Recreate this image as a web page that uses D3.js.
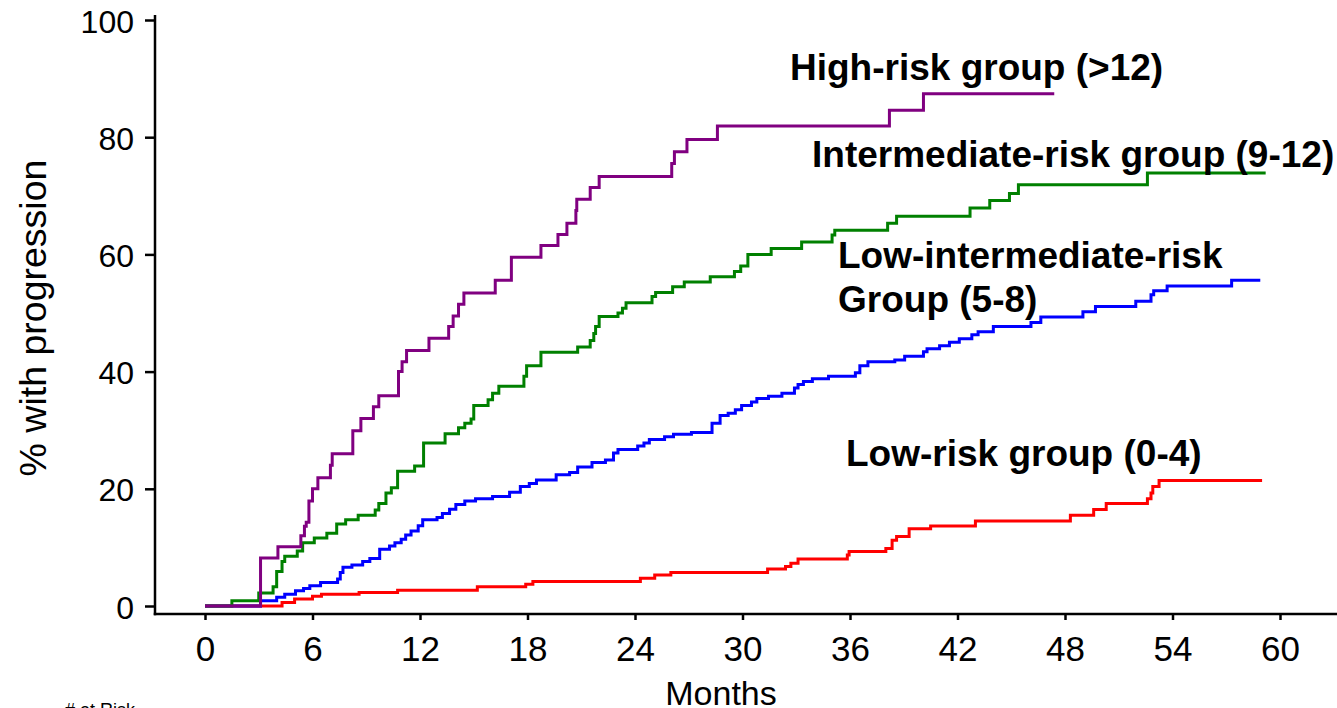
<!DOCTYPE html>
<html>
  <head>
    <meta charset="utf-8" />
    <style type="text/css">
      html, body { margin: 0; padding: 0; background: #fff; }
      svg { display: block; }
      .tx { font-family: "Liberation Sans", Arial, Helvetica, sans-serif; }
    </style>
    <script src="https://cdn.jsdelivr.net/npm/d3@7"></script>
  </head>
  <body>
    <div id="chart"></div>
    <script>
      // [month, % with progression]
      var lowRisk = [[0,0],[4.3,0.6],[5.0,1.2],[6.0,1.65],[6.5,2.0],[8.6,2.3],[10.75,2.7],[15.2,3.3],[17.9,3.7],[18.3,4.2],
        [24.3,4.75],[25.1,5.3],[26.0,5.7],[31.4,6.3],[32.4,6.75],[32.7,7.3],[33.1,8.0],[35.85,8.7],[35.95,9.3],[38.0,9.8],
        [38.35,11.2],[38.6,11.85],[39.3,13.2],[40.5,13.65],[43.0,14.5],[48.3,15.5],[49.6,16.45],[50.3,17.5],[52.6,18.3],
        [52.8,19.3],[52.9,20.4],[53.25,21.4],[59.0,21.4]];
      var lowIntRisk = [[0,0],[3.1,0.9],[4.0,1.5],[4.45,2.0],[5.05,2.6],[5.5,3.0],[5.85,3.45],[6.45,4.0],[7.4,4.6],[7.55,5.7],
        [7.7,6.6],[8.2,7.0],[8.8,7.6],[9.2,8.1],[9.75,9.7],[10.3,10.25],[10.6,10.8],[10.95,11.4],[11.2,12.1],[11.5,12.8],
        [11.9,13.7],[12.15,14.7],[12.95,15.1],[13.25,15.8],[13.65,16.5],[14.0,17.3],[14.5,17.9],[15.1,18.3],[16.05,18.7],
        [17.0,19.4],[17.6,20.4],[18.1,20.9],[18.5,21.5],[19.6,22.4],[20.35,22.8],[20.8,23.7],[21.6,24.5],[22.35,24.9],
        [22.8,26.1],[23.05,26.7],[24.15,27.3],[24.5,27.8],[24.8,28.4],[25.65,28.9],[26.15,29.3],[27.15,29.6],[28.3,31.2],
        [28.75,32.5],[29.2,32.9],[29.6,33.5],[29.95,34.2],[30.5,34.8],[30.8,35.4],[31.45,35.8],[32.2,36.3],[32.9,37.2],
        [33.1,37.8],[33.4,38.3],[33.9,38.8],[34.8,39.2],[36.3,39.8],[36.55,41.0],[37.0,41.7],[38.5,42.0],[39.05,42.6],
        [40.1,43.4],[40.3,43.9],[41.0,44.4],[41.55,45.0],[42.1,45.6],[42.8,46.3],[43.15,46.8],[44.0,47.7],[46.1,48.4],
        [46.65,49.3],[49.0,50.2],[49.7,51.1],[51.95,52.0],[52.8,53.1],[52.95,53.8],[53.7,54.6],[57.3,55.6],[58.9,55.6]];
      var intRisk = [[0,0],[1.5,0.9],[3.0,2.2],[3.8,3.3],[4.0,5.9],[4.3,7.6],[4.45,8.5],[5.15,9.4],[5.45,10.8],[6.1,11.6],
        [6.8,12.4],[7.35,14.0],[7.85,14.7],[8.55,15.5],[9.5,16.4],[9.7,17.5],[10.1,19.3],[10.4,20.2],[10.75,23.0],[11.7,23.9],
        [12.2,27.8],[13.4,29.4],[14.15,30.4],[14.5,31.2],[14.85,31.9],[15.0,34.2],[15.8,35.2],[16.05,36.3],[16.4,37.5],
        [17.8,39.2],[17.95,41.0],[18.75,43.3],[20.8,44.2],[21.5,45.3],[21.7,46.5],[21.8,47.7],[22.0,49.4],[23.05,50.0],
        [23.3,50.8],[23.5,51.75],[24.95,52.8],[25.15,53.5],[26.1,54.5],[26.75,55.3],[28.2,56.2],[29.55,57.1],[29.9,58.0],
        [30.3,60.0],[31.6,61.0],[33.3,62.1],[35.0,63.3],[35.15,64.1],[38.1,65.3],[38.6,66.5],[42.7,67.9],[43.8,69.2],
        [44.9,70.4],[45.4,71.9],[52.6,73.9],[59.2,73.9]];
      var highRisk = [[0,0],[3.1,8.2],[4.07,10.1],[5.35,12.0],[5.55,13.6],[5.65,14.3],[5.8,17.9],[6.0,20.0],[6.3,21.9],
        [7.0,24.0],[7.1,26.0],[8.25,29.9],[8.7,32.0],[9.4,34.0],[9.7,35.9],[10.8,40.0],[11.0,41.7],[11.25,43.6],[12.5,45.7],
        [13.6,47.7],[13.85,49.5],[14.15,51.5],[14.45,53.4],[16.2,55.6],[17.1,59.5],[18.75,61.5],[19.7,63.4],[20.2,65.3],
        [20.7,67.5],[20.75,69.4],[21.5,71.4],[22.0,73.3],[26.05,75.5],[26.2,77.5],[26.9,79.6],[28.6,81.9],[38.2,84.6],
        [40.1,87.4],[47.4,87.4]];

      var seriesColors = ["#ff0000", "#0000ff", "#008000", "#800080"];
      var seriesData = [lowRisk, lowIntRisk, intRisk, highRisk];

      var xTicks = [0, 6, 12, 18, 24, 30, 36, 42, 48, 54, 60];
      var yTicks = [0, 20, 40, 60, 80, 100];

      // group labels, one line each entry
      var labelLines = [
        {text: "High-risk group (>12)", x: 790, y: 80},
        {text: "Intermediate-risk group (9-12)", x: 812, y: 167},
        {text: "Low-intermediate-risk", x: 838, y: 268},
        {text: "Group (5-8)", x: 838, y: 312},
        {text: "Low-risk group (0-4)", x: 846, y: 466}
      ];

      var W = 1337, H = 708;
      var axX = 155, axY = 614;

      var svg = d3.select("#chart").append("svg")
        .attr("width", W).attr("height", H);

      var x = d3.scaleLinear().domain([0, 60]).range([205, 1280]);
      var y = d3.scaleLinear().domain([0, 100]).range([606, 20]);

      // axes
      var yAxis = svg.append("g")
        .attr("transform", "translate(" + axX + ",0)")
        .call(d3.axisLeft(y).tickValues(yTicks).tickSize(10).tickSizeOuter(0));
      yAxis.select(".domain").remove();
      yAxis.selectAll("line").attr("stroke", "#000").attr("stroke-width", 2.5);
      yAxis.selectAll("text")
        .attr("class", "tx")
        .attr("x", -21).attr("dy", null).attr("y", 12)
        .style("font-size", "32px").attr("fill", "#000");

      var xAxis = svg.append("g")
        .attr("transform", "translate(0," + axY + ")")
        .call(d3.axisBottom(x).tickValues(xTicks).tickSize(6).tickSizeOuter(0));
      xAxis.select(".domain").remove();
      xAxis.selectAll("line").attr("stroke", "#000").attr("stroke-width", 2.5);
      xAxis.selectAll("text")
        .attr("class", "tx")
        .attr("dy", null).attr("y", 47)
        .style("font-size", "35px").attr("fill", "#000");

      svg.append("line")
        .attr("x1", axX).attr("x2", axX).attr("y1", 15).attr("y2", axY + 1.25)
        .attr("stroke", "#000").attr("stroke-width", 2.5);
      svg.append("line")
        .attr("x1", axX - 1.25).attr("x2", W).attr("y1", axY).attr("y2", axY)
        .attr("stroke", "#000").attr("stroke-width", 2.5);

      // curves
      var line = d3.line()
        .x(function(d) { return x(d[0]); })
        .y(function(d) { return y(d[1]); })
        .curve(d3.curveStepAfter);

      svg.selectAll(".curve")
        .data(seriesData)
        .enter().append("path")
        .attr("class", "curve")
        .attr("d", line)
        .attr("fill", "none")
        .attr("stroke", function(d, i) { return seriesColors[i]; })
        .attr("stroke-width", 3);

      // labels
      svg.selectAll(".lbl")
        .data(labelLines)
        .enter().append("text")
        .attr("class", "tx lbl")
        .attr("x", function(d) { return d.x; })
        .attr("y", function(d) { return d.y; })
        .style("font-size", "37px").style("font-weight", "bold")
        .text(function(d) { return d.text; });

      svg.append("text")
        .attr("class", "tx")
        .attr("transform", "translate(46,318) rotate(-90)")
        .attr("text-anchor", "middle")
        .style("font-size", "37.5px")
        .text("% with progression");

      svg.append("text")
        .attr("class", "tx")
        .attr("x", 721).attr("y", 705)
        .attr("text-anchor", "middle")
        .style("font-size", "34px")
        .text("Months");

      svg.append("text")
        .attr("class", "tx")
        .attr("x", 65).attr("y", 716)
        .style("font-size", "18px")
        .text("# at Risk");
    </script>
  </body>
</html>
